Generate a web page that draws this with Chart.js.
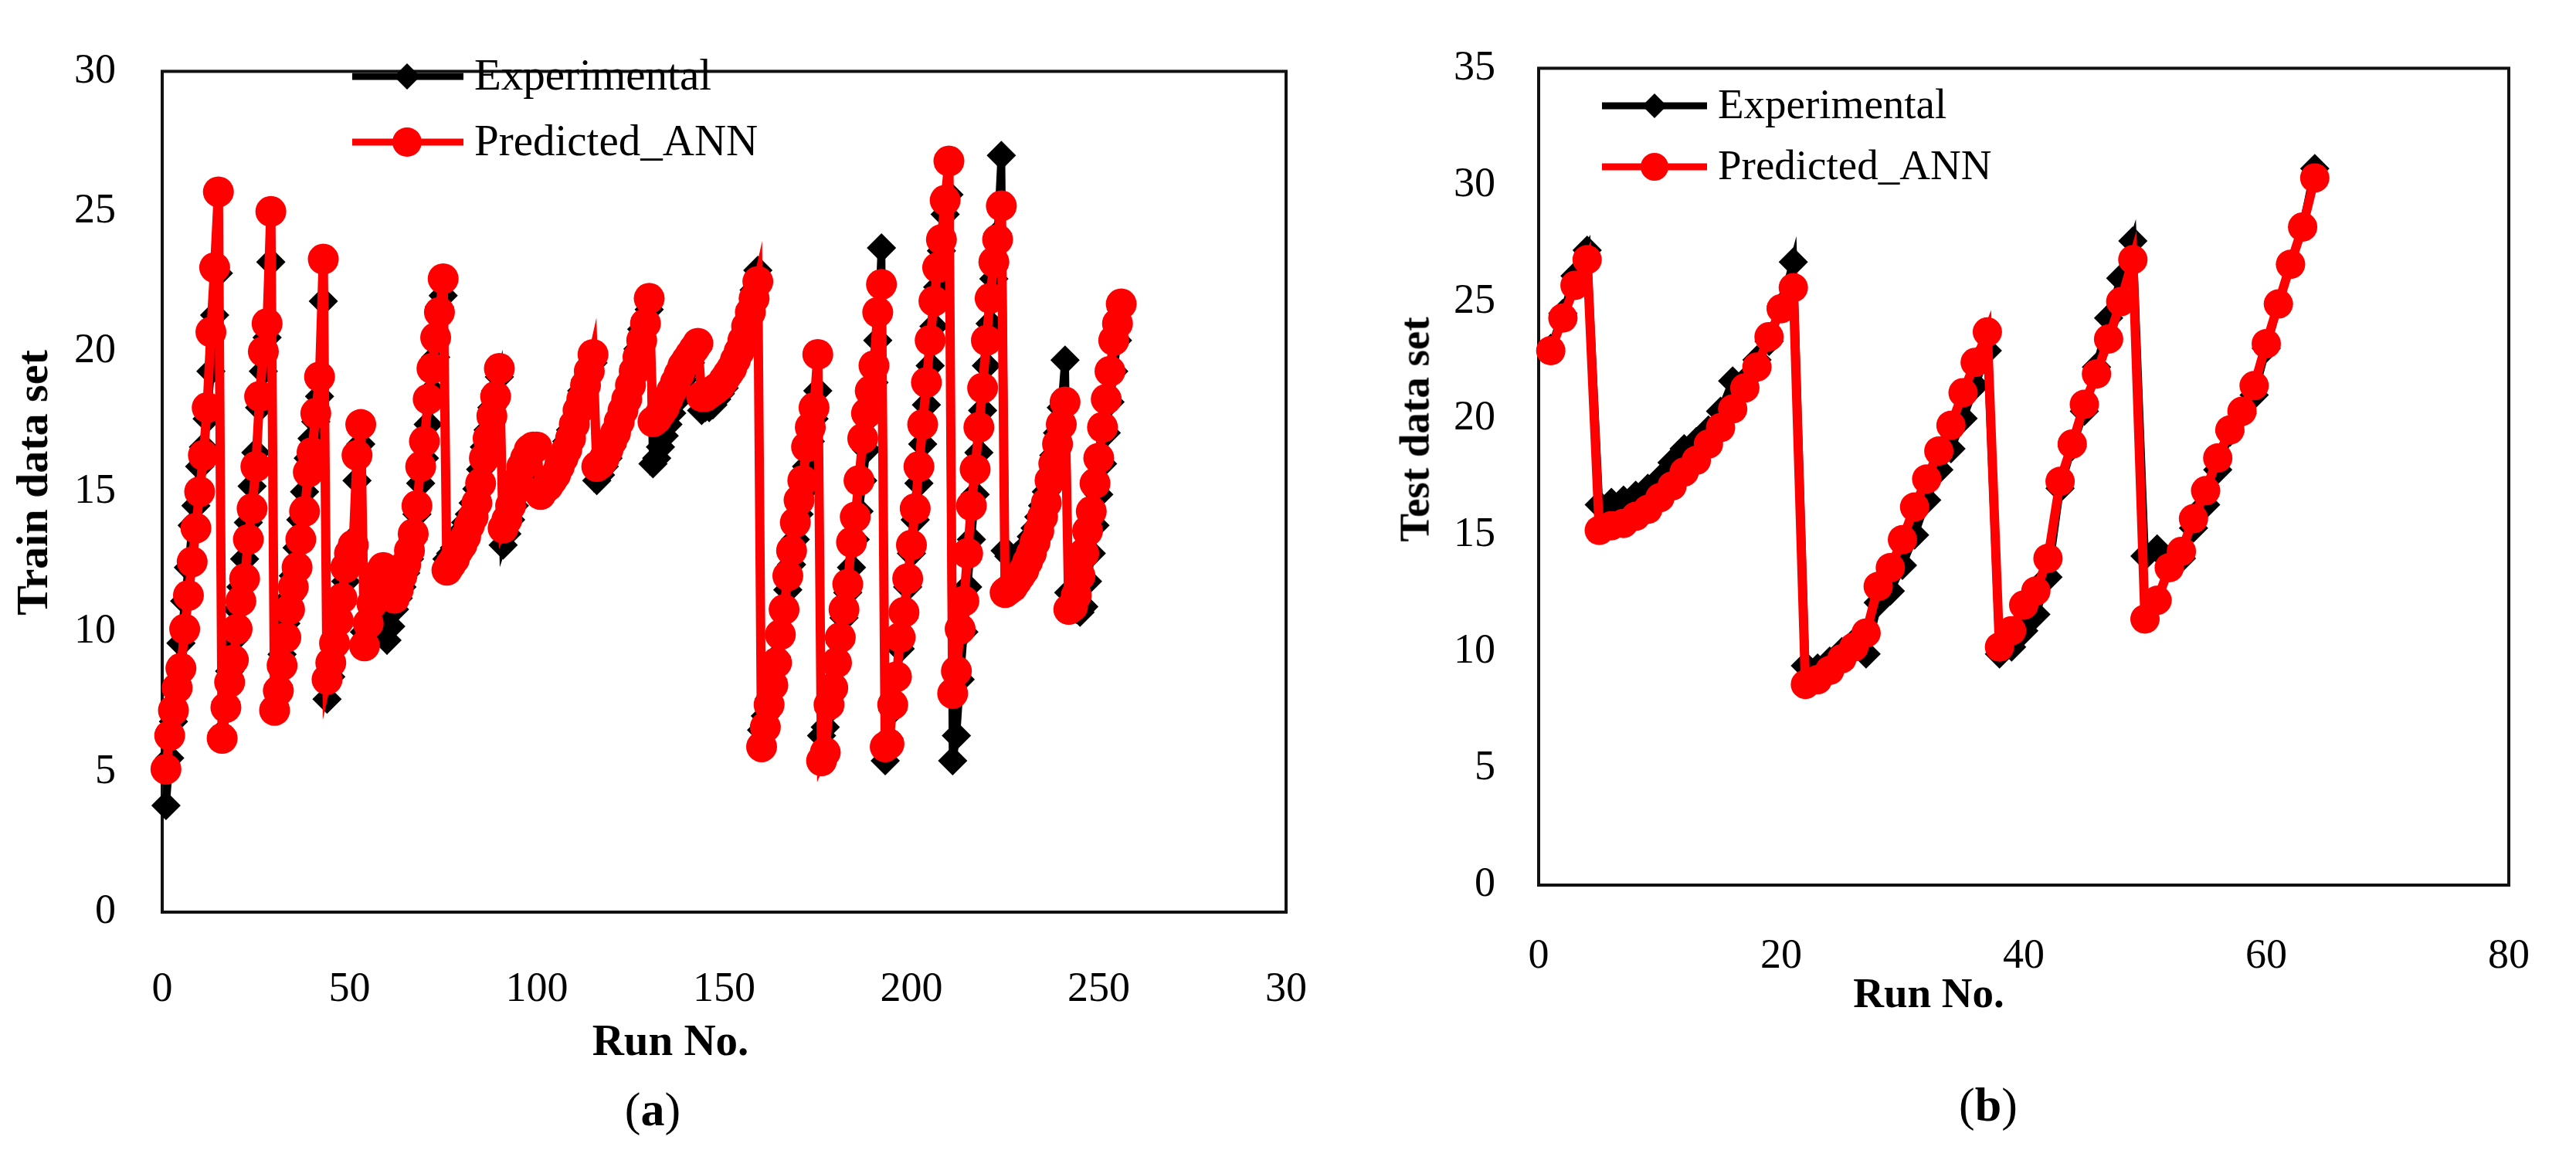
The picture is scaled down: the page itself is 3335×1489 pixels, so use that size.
<!DOCTYPE html>
<html>
<head>
<meta charset="utf-8">
<script src="https://cdn.jsdelivr.net/npm/chart.js@4.4.0/dist/chart.umd.min.js"></script>
<style>
html,body{margin:0;padding:0;background:#fff;}
#wrap{position:relative;width:3335px;height:1489px;overflow:hidden;background:#fff;font-family:"Liberation Serif","Times New Roman",serif;color:#000;}
#wrap canvas{position:absolute;top:0;}
.lbl{position:absolute;white-space:nowrap;transform:translate(-50%,-50%);line-height:1;}
.rot{transform:translate(-50%,-50%) rotate(-90deg);}
</style>
</head>
<body>
<div id="wrap">
  <canvas id="chartA" width="1760" height="1489" style="left:0px"></canvas>
  <canvas id="chartB" width="1575" height="1489" style="left:1760px"></canvas>
  <div class="lbl rot" style="left:42px;top:625px;font-weight:bold;font-size:58px">Train data set</div>
  <div class="lbl rot" style="left:1831px;top:556px;font-weight:bold;font-size:55px">Test data set</div>
  <div class="lbl" style="left:868px;top:1346px;font-weight:bold;font-size:57px">Run No.</div>
  <div class="lbl" style="left:2497px;top:1285px;font-weight:bold;font-size:55px">Run No.</div>
  <div class="lbl" style="left:845px;top:1436px;font-size:62px">(<b>a</b>)</div>
  <div class="lbl" style="left:2574px;top:1430px;font-size:62px">(<b>b</b>)</div>
</div>
<script>
// ---------------- DATA ----------------
const seriesNames = ['Experimental', 'Predicted_ANN'];

// (a) Train data set, runs 1..256
const trainExperimental = [
  3.8, 5.5, 6.8, 8.2, 9.6, 11.1, 12.3, 13.8, 14.5, 15.9, 16.6, 17.6, 19.3, 21.3, 22.8,
  6.4, 7.5, 8.6, 9.7, 10.8, 11.6, 12.6, 13.9, 15.2, 16.4, 18.0, 19.3, 20.5, 23.2,
  7.4, 8.1, 9.2, 10.3, 11.2, 12.0, 13.0, 14.0, 15.0, 16.2, 16.9, 17.5, 18.4, 21.8,
  7.6, 8.4, 9.4, 10.2, 11.0, 11.8, 12.6, 13.3, 15.4, 16.7,
  10.0, 10.1, 10.6, 11.2, 11.0, 10.2, 9.7, 10.2, 10.8, 11.2, 11.6, 12.1, 12.6, 13.3, 14.2, 15.3, 16.2, 17.4, 18.6, 19.8, 21.6, 22.0,
  12.6, 12.8, 13.0, 13.3, 13.6, 13.9, 14.2, 14.6, 15.1, 15.8, 16.6, 17.2, 18.0, 18.6, 19.1,
  13.1, 13.5, 14.0, 14.5, 15.0, 15.5, 15.9, 16.2, 16.4, 16.5,
  15.0, 15.2, 15.4, 15.6, 15.8, 16.1, 16.4, 16.8, 17.2, 17.6, 18.0, 18.6, 19.0, 19.4, 19.6,
  15.4, 15.6, 15.9, 16.2, 16.6, 17.0, 17.4, 17.9, 18.3, 18.8, 19.5, 20.1, 20.8, 21.2, 21.5,
  16.0, 16.2, 16.6, 17.0, 17.4, 17.8, 18.2, 18.6, 19.0, 19.3, 19.6, 19.9, 20.1,
  17.9, 18.0, 18.0, 18.1, 18.3, 18.5, 18.7, 19.0, 19.3, 19.6, 20.0, 20.5, 21.0, 21.6, 22.2, 22.9,
  6.5, 7.0, 7.6, 8.3, 9.1, 9.8, 10.7, 11.5, 12.4, 13.3, 14.2, 15.0, 15.9, 16.8, 17.6, 18.6,
  6.3, 6.6, 7.2, 8.0, 8.8, 9.6, 10.5, 11.4, 12.3, 13.3, 14.3, 15.4, 16.5, 17.7, 18.9, 20.4, 23.7,
  5.4, 6.2, 7.2, 8.3, 9.4, 10.5, 11.6, 12.8, 14.0, 15.3, 16.7, 18.1, 19.5, 20.9, 22.3, 23.6, 24.9, 25.6,
  5.4, 6.3, 8.3, 10.0, 11.6, 13.3, 14.9, 16.4, 17.9, 19.5, 21.0, 22.6, 24.2, 27.0,
  12.9, 12.7, 12.6, 12.7, 12.8, 12.9, 13.1, 13.4, 13.7, 14.1, 14.5, 15.0, 15.6, 16.3, 17.1, 18.0, 19.7,
  11.4, 11.0, 10.8, 10.7, 10.9, 11.8, 12.8, 13.8, 14.9, 16.0, 17.1, 18.2, 19.3, 20.4, 21.5
];
const trainPredicted = [
  5.1, 6.3, 7.2, 8.0, 8.7, 10.1, 11.3, 12.5, 13.7, 15.0, 16.3, 18.0, 20.7, 23.0, 25.7,
  6.2, 7.3, 8.2, 9.0, 10.1, 11.1, 11.9, 13.3, 14.4, 15.9, 18.4, 20.0, 21.0, 25.0,
  7.2, 7.9, 8.8, 9.8, 10.8, 11.6, 12.3, 13.3, 14.3, 15.7, 16.4, 17.8, 19.1, 23.3,
  8.3, 8.9, 9.6, 10.4, 11.2, 12.3, 12.8, 13.1, 16.3, 17.4,
  9.5, 10.3, 11.0, 11.6, 12.1, 12.3, 12.2, 11.6, 11.2, 11.5, 12.0, 12.4, 12.9, 13.5, 14.5, 15.9, 16.8, 18.3, 19.4, 20.5, 21.4, 22.6,
  12.2, 12.4, 12.6, 12.9, 13.1, 13.4, 13.8, 14.1, 14.6, 15.3, 16.2, 16.9, 17.7, 18.4, 19.4,
  13.7, 14.0, 14.5, 15.0, 15.4, 15.9, 16.2, 16.5, 16.6, 16.6,
  14.9, 15.1, 15.2, 15.4, 15.6, 15.9, 16.2, 16.5, 16.9, 17.4, 17.9, 18.3, 18.8, 19.3, 19.9,
  15.9, 16.0, 16.2, 16.5, 16.8, 17.1, 17.5, 17.9, 18.3, 18.8, 19.3, 19.8, 20.4, 21.0, 21.9,
  17.5, 17.6, 17.8, 18.0, 18.3, 18.6, 18.9, 19.2, 19.5, 19.7, 19.9, 20.1, 20.3,
  18.4, 18.4, 18.5, 18.6, 18.7, 18.8, 19.0, 19.2, 19.4, 19.7, 20.0, 20.4, 20.9, 21.4, 21.9, 22.5,
  5.9, 6.6, 7.4, 8.1, 8.9, 9.9, 10.8, 12.0, 12.9, 13.9, 14.7, 15.4, 16.6, 17.3, 18.0, 19.9,
  5.4, 5.7, 7.4, 8.0, 8.9, 9.8, 10.8, 11.7, 13.2, 14.1, 15.4, 16.9, 17.8, 18.6, 19.5, 21.4, 22.4,
  5.9, 6.0, 7.4, 8.4, 9.8, 10.7, 11.9, 13.1, 14.4, 15.9, 17.4, 18.9, 20.4, 21.8, 23.0, 24.0, 25.4, 26.8,
  7.8, 8.6, 10.1, 11.1, 12.8, 14.5, 15.8, 17.3, 18.7, 20.4, 21.9, 23.2, 24.0, 25.2,
  11.4, 11.5, 11.6, 11.8, 12.0, 12.2, 12.5, 12.8, 13.2, 13.6, 14.1, 14.6, 15.4, 16.0, 16.7, 17.4, 18.2,
  10.8, 10.9, 11.3, 12.0, 12.8, 13.6, 14.3, 15.3, 16.2, 17.3, 18.3, 19.3, 20.4, 21.0, 21.7
];
const trainXTickLabels = ['0', '50', '100', '150', '200', '250', '30'];
const trainYTickLabels = ['0', '5', '10', '15', '20', '25', '30'];

// (b) Test data set, runs 1..64
const testExperimental = [
  23.0, 24.5, 26.1, 27.2,
  16.3, 16.4, 16.5, 16.7, 17.0, 17.4, 18.1, 18.7, 19.0, 19.5, 20.3, 21.6, 21.6, 22.5, 23.3, 24.8, 26.7,
  9.4, 9.3, 9.6, 10.0, 10.4, 9.9, 12.1, 12.6, 13.7, 15.0, 16.5, 17.8, 18.7, 20.0, 21.4, 22.9,
  9.9, 10.2, 10.9, 11.6, 13.2, 17.0, 18.8, 20.3, 22.2, 24.3, 26.0, 27.6,
  14.1, 14.4, 13.7, 14.0, 15.3, 16.3, 17.8, 19.4, 20.2, 21.0, 23.0, 24.9, 26.6, 28.2, 30.7
];
const testPredicted = [
  22.9, 24.3, 25.7, 26.8,
  15.2, 15.4, 15.5, 15.8, 16.1, 16.6, 17.1, 17.7, 18.2, 18.9, 19.6, 20.4, 21.3, 22.2, 23.5, 24.7, 25.6,
  8.6, 8.8, 9.2, 9.7, 10.2, 10.8, 12.8, 13.6, 14.8, 16.2, 17.4, 18.6, 19.7, 21.1, 22.4, 23.7,
  10.2, 10.9, 12.0, 12.6, 14.0, 17.3, 18.9, 20.6, 21.9, 23.4, 25.0, 26.8,
  11.4, 12.2, 13.6, 14.3, 15.7, 16.9, 18.3, 19.5, 20.3, 21.4, 23.2, 24.9, 26.6, 28.2, 30.3
];
const testXTickLabels = ['0', '20', '40', '60', '80'];
const testYTickLabels = ['0', '5', '10', '15', '20', '25', '30', '35'];

// run numbers (category index of each observation)
const trainRuns = trainPredicted.map((_, i) => i + 1);
const testRuns = testPredicted.map((_, i) => i + 1);

// ---------------- RENDERING ----------------
const FONT = '"Liberation Serif", "Times New Roman", serif';
const RED = '#ff0000';
const BLACK = '#000000';

const framePlugin = {
  id: 'frameBox',
  beforeDatasetsDraw(chart) {
    const { ctx, chartArea: a } = chart;
    ctx.save();
    ctx.lineWidth = 4;
    ctx.strokeStyle = '#111';
    ctx.strokeRect(a.left, a.top, a.right - a.left, a.bottom - a.top);
    ctx.restore();
  }
};

const lineLegendPlugin = {
  id: 'lineLegend',
  afterDraw(chart, args, opts) {
    const ctx = chart.ctx;
    ctx.save();
    chart.data.datasets.forEach((ds, i) => {
      const y = opts.rows[i];
      ctx.strokeStyle = ds.borderColor;
      ctx.lineWidth = opts.lineWidth;
      ctx.beginPath();
      ctx.moveTo(opts.x0, y);
      ctx.lineTo(opts.x1, y);
      ctx.stroke();
      ctx.fillStyle = ds.pointBackgroundColor;
      ctx.beginPath();
      if (ds.pointStyle === 'rectRot') {
        const r = opts.diamond;
        ctx.moveTo(opts.mx, y - r);
        ctx.lineTo(opts.mx + r, y);
        ctx.lineTo(opts.mx, y + r);
        ctx.lineTo(opts.mx - r, y);
        ctx.closePath();
      } else {
        ctx.arc(opts.mx, y, opts.circle, 0, Math.PI * 2);
      }
      ctx.fill();
      ctx.fillStyle = '#000';
      ctx.font = opts.fontSize + 'px ' + FONT;
      ctx.textAlign = 'left';
      ctx.textBaseline = 'middle';
      ctx.fillText(ds.label, opts.tx, y + 2);
    });
    ctx.restore();
  }
};

function makeChart(id, cfg) {
  const toXY = (ys) => ys.map((v, i) => ({ x: cfg.runs[i], y: v }));
  return new Chart(document.getElementById(id), {
    type: 'line',
    data: {
      datasets: [
        {
          label: seriesNames[0],
          data: toXY(cfg.exp),
          borderColor: BLACK,
          backgroundColor: BLACK,
          borderWidth: 10,
          pointStyle: 'rectRot',
          pointRadius: cfg.diamond,
          pointBackgroundColor: BLACK,
          pointBorderWidth: 0,
          tension: 0,
          clip: false,
          order: 2
        },
        {
          label: seriesNames[1],
          data: toXY(cfg.pred),
          borderColor: RED,
          backgroundColor: RED,
          borderWidth: 12,
          pointStyle: 'circle',
          pointRadius: cfg.circle,
          pointBackgroundColor: RED,
          pointBorderWidth: 0,
          tension: 0,
          clip: false,
          order: 1
        }
      ]
    },
    options: {
      responsive: false,
      animation: false,
      devicePixelRatio: 1,
      events: [],
      layout: { padding: cfg.padding },
      plugins: {
        legend: { display: false },
        tooltip: { enabled: false },
        lineLegend: cfg.legend
      },
      scales: {
        x: {
          type: 'linear',
          min: 0,
          max: cfg.xMax,
          grid: { display: false, drawTicks: false },
          border: { display: false },
          ticks: {
            stepSize: cfg.xStep,
            autoSkip: false,
            maxRotation: 0,
            padding: cfg.xPad,
            color: '#000',
            font: { family: FONT, size: cfg.tickSize },
            callback: (v, i) => cfg.xLabels[i]
          },
          afterFit: (s) => { s.height = cfg.xHeight; }
        },
        y: {
          min: 0,
          max: cfg.yMax,
          grid: { display: false, drawTicks: false },
          border: { display: false },
          ticks: {
            stepSize: 5,
            padding: cfg.yPad,
            color: '#000',
            font: { family: FONT, size: cfg.tickSize },
            callback: (v, i) => cfg.yLabels[i]
          },
          afterFit: (s) => { s.width = cfg.yWidth; }
        }
      }
    },
    plugins: [framePlugin, lineLegendPlugin]
  });
}

makeChart('chartA', {
  runs: trainRuns, exp: trainExperimental, pred: trainPredicted,
  xMax: 300, xStep: 50, yMax: 30,
  xLabels: trainXTickLabels, yLabels: trainYTickLabels,
  padding: { top: 42, right: 62, left: 0, bottom: 0 },
  yWidth: 210, xHeight: 308, xPad: 68, yPad: 60, tickSize: 54,
  diamond: 19, circle: 20,
  legend: { x0: 456, x1: 600, mx: 527, tx: 614, rows: [99, 184], lineWidth: 9, diamond: 17, circle: 19, fontSize: 57 }
});

makeChart('chartB', {
  runs: testRuns, exp: testExperimental, pred: testPredicted,
  xMax: 80, xStep: 20, yMax: 35,
  xLabels: testXTickLabels, yLabels: testYTickLabels,
  padding: { top: 71, right: 41, left: 0, bottom: 0 },
  yWidth: 232, xHeight: 343, xPad: 60, yPad: 56, tickSize: 54,
  diamond: 19, circle: 19,
  legend: { x0: 314, x1: 450, mx: 382, tx: 464, rows: [137, 216], lineWidth: 9, diamond: 16, circle: 18, fontSize: 55 }
});
</script>
</body>
</html>
